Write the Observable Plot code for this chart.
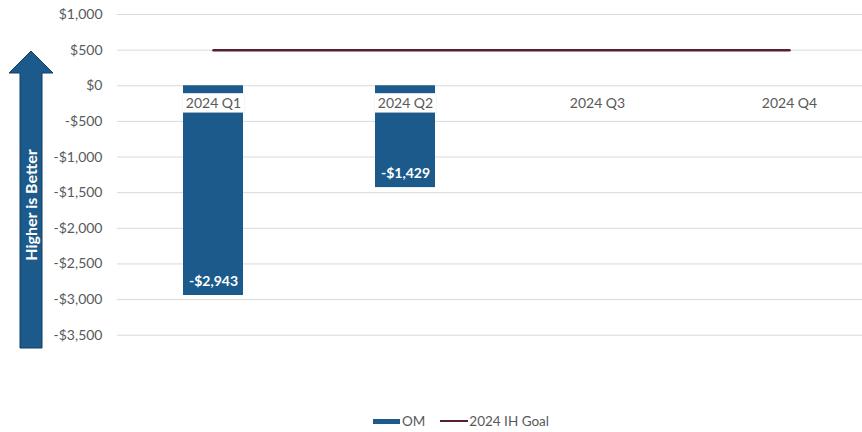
<!DOCTYPE html>
<html>
<head>
<meta charset="utf-8">
<script src="https://cdn.jsdelivr.net/npm/d3@7"></script>
<script src="https://cdn.jsdelivr.net/npm/@observablehq/plot@0.6"></script>
<style>
  body { margin: 0; background: #fff; font-family: Lato, "Open Sans", sans-serif; }
  #chart { position: relative; width: 862px; height: 432px; }
  .legend { position: absolute; left: 0; top: 410px; width: 862px; height: 22px;
            display: flex; justify-content: flex-start; align-items: center;
            font-size: 13.5px; color: #595959; padding-left: 373px; box-sizing: border-box; }
  .legend .sw { display: inline-block; width: 27px; height: 5px; background: #1B5A8A; margin-right: 2px; }
  .legend .ln { display: inline-block; width: 28px; height: 2.5px; background: #561E36; margin-left: 15px; margin-right: 1px; }
</style>
</head>
<body>
<div id="chart"></div>
<script>
const quarters = ["2024 Q1", "2024 Q2", "2024 Q3", "2024 Q4"];
const omValues = [-2943, -1429, null, null];
const goalValues = [500, 500, 500, 500];
const yTicks = [1000, 500, 0, -500, -1000, -1500, -2000, -2500, -3000, -3500];

const barColor = "#1B5A8A";
const goalColor = "#561E36";
const textGray = "#595959";

const data = quarters.map((q, i) => ({q, om: omValues[i], goal: goalValues[i]}));
const bars = data.filter(d => d.om != null);

const money = v => (v < 0 ? "-" : "") + "$" + d3.format(",")(Math.abs(v));

const chart = Plot.plot({
  width: 862,
  height: 400,
  marginLeft: 117,
  marginRight: 0,
  marginTop: 14,
  marginBottom: 65,
  style: {fontFamily: "Lato, 'Open Sans', sans-serif", fontSize: "14px", color: textGray, background: "#fff"},
  x: {domain: quarters, range: [117, 885], paddingInner: 0.6875, paddingOuter: 0.34375, axis: null},
  y: {domain: [-3500, 1000], range: [334.7, 14], axis: null},
  marks: [
    Plot.ruleY(yTicks, {stroke: "#D9D9D9", strokeWidth: 1}),
    Plot.axisY({ticks: yTicks, tickSize: 0, tickPadding: 15, tickFormat: money, fill: textGray, fontSize: 14}),
    Plot.barY(bars, {x: "q", y: "om", fill: barColor}),
    Plot.lineY(data, {x: "q", y: "goal", stroke: goalColor, strokeWidth: 2.5}),
    Plot.text(data, {x: "q", y: () => 0, text: "q", dy: 18, fill: textGray, fontSize: 14, className: "cat-label"}),
    Plot.text(bars, {x: "q", y: "om", text: d => money(d.om), dy: -14, fill: "white", fontWeight: "bold", fontSize: 14})
  ]
});

document.getElementById("chart").appendChild(chart);

// white label boxes behind category labels that sit over a bar
const barSet = new Set(bars.map(d => d.q));
d3.select(chart).selectAll("g.cat-label text").each(function(d, i) {
  const q = quarters[d];
  if (q === undefined || !barSet.has(q)) return;
  const bb = this.getBBox();
  const t = this.getAttribute("transform");
  const r = d3.select(this.parentNode).insert("rect", () => this)
    .attr("x", bb.x - 3).attr("y", bb.y - 1)
    .attr("width", bb.width + 6).attr("height", bb.height + 2)
    .attr("fill", "white").attr("stroke", "#e8e8e8").attr("stroke-width", 0.5);
  if (t) r.attr("transform", t);
});

// "Higher is Better" arrow annotation
const svg = d3.select(chart);
const ann = svg.append("g");
ann.append("path")
  .attr("d", "M31,51 L53,73 L42,73 L42,348 L20,348 L20,73 L9,73 Z")
  .attr("fill", barColor).attr("stroke", "#123F63").attr("stroke-width", 1);
ann.append("text")
  .attr("transform", "translate(31,205) rotate(-90)")
  .attr("text-anchor", "middle").attr("dy", "0.36em")
  .attr("fill", "white").attr("font-weight", "bold").attr("font-size", 16)
  .text("Higher is Better");

// legend
const legend = document.createElement("div");
legend.className = "legend";
legend.innerHTML = '<span class="sw"></span><span>OM</span><span class="ln"></span><span>2024 IH Goal</span>';
document.getElementById("chart").appendChild(legend);
</script>
</body>
</html>
